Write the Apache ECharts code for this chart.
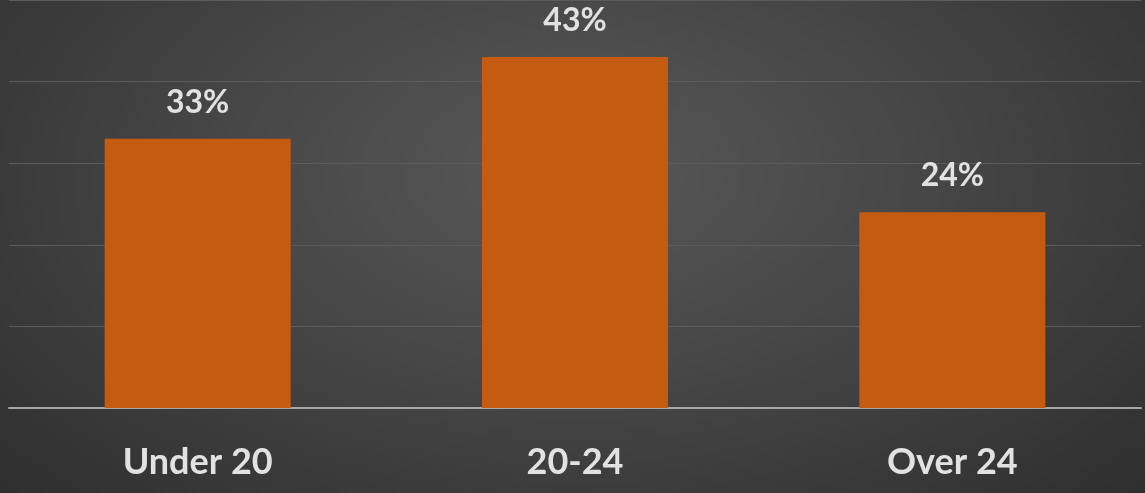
<!DOCTYPE html>
<html>
<head>
<meta charset="utf-8">
<script src="https://cdn.jsdelivr.net/npm/echarts@6/dist/echarts.min.js"></script>
<style>
  html, body { margin: 0; padding: 0; }
  body {
    width: 1145px; height: 493px; overflow: hidden;
    background: radial-gradient(ellipse 70% 95% at 50% 35%, #585858 0%, #464646 45%, #2e2e2e 100%);
  }
  #chart { width: 1145px; height: 493px; }
</style>
</head>
<body>
<div id="chart"></div>
<script>
// Share of respondents by age group (percent)
const categories = ['Under 20', '20-24', 'Over 24'];
const shares = [33, 43, 24];

const chart = echarts.init(document.getElementById('chart'), null, { renderer: 'canvas' });

chart.setOption({
  backgroundColor: 'transparent',
  animation: false,
  grid: { left: 9, right: 4, top: -2, bottom: 85, containLabel: false },
  xAxis: {
    type: 'category',
    data: categories,
    axisLine: { show: true, lineStyle: { color: '#a6a6a6', width: 2 } },
    axisTick: { show: false },
    axisLabel: {
      margin: 36,
      color: '#e2e2e2',
      fontFamily: 'Lato',
      fontWeight: 'bold',
      fontSize: 36
    }
  },
  yAxis: {
    type: 'value',
    min: 0,
    max: 50,
    interval: 10,
    axisLine: { show: false },
    axisTick: { show: false },
    axisLabel: { show: false },
    splitLine: { lineStyle: { color: '#5c5c5c', width: 1 } }
  },
  series: [{
    type: 'bar',
    data: shares,
    barWidth: 186,
    itemStyle: { color: '#c55a11' },
    label: {
      show: true,
      position: 'top',
      distance: 20,
      formatter: '{c}%',
      color: '#e2e2e2',
      fontFamily: 'Lato',
      fontWeight: 'bold',
      fontSize: 32
    }
  }]
});
</script>
</body>
</html>
